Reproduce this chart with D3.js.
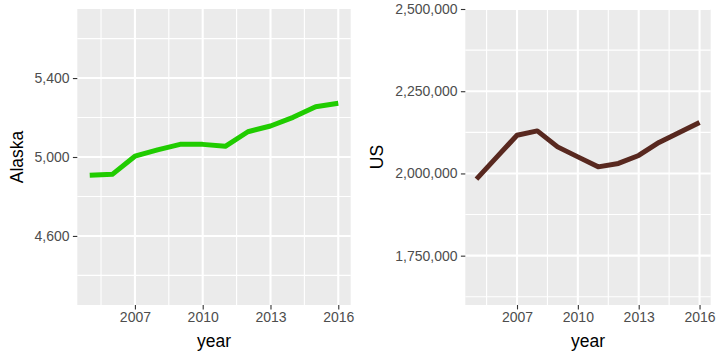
<!DOCTYPE html>
<html>
<head>
<meta charset="utf-8">
<script src="https://cdn.jsdelivr.net/npm/d3@7"></script>
<style>
  html, body { margin: 0; padding: 0; background: #ffffff; }
  svg { display: block; font-family: "Liberation Sans", Arial, Helvetica, sans-serif; }
</style>
</head>
<body>
<svg id="chart" width="720" height="360"></svg>
<script>
// ---- data ----
const years = [2005, 2006, 2007, 2008, 2009, 2010, 2011, 2012, 2013, 2014, 2015, 2016];
const alaska = [4907, 4912, 5004, 5036, 5064, 5064, 5054, 5128, 5157, 5201, 5255, 5272];
const us = [1982700, 2049500, 2116300, 2129400, 2080800, 2050400, 2020000, 2030400, 2054700, 2094200, 2124500, 2154900];
const xTicks = [2007, 2010, 2013, 2016];
const xMinor = [2005.5, 2008.5, 2011.5, 2014.5];
const alaskaTicks = [4600, 5000, 5400];
const alaskaMinor = [4400, 4800, 5200, 5600];
const usTicks = [1750000, 2000000, 2250000, 2500000];
const usMinor = [1625000, 1875000, 2125000, 2375000];

const svg = d3.select("#chart");
const fmt = d3.format(",");

const panels = [
  { name: "Alaska", values: alaska, color: "#20cc00", x0: 77.3, x1: 350.7, yDomain: [4250, 5750],
    ticks: alaskaTicks, minor: alaskaMinor, titleX: 23 },
  { name: "US", values: us, color: "#58281f", x0: 465.3, x1: 710.7, yDomain: [1600000, 2500000],
    ticks: usTicks, minor: usMinor, titleX: 383 }
];
const pTop = 9, pBottom = 305;

panels.forEach(p => {
  const x = d3.scaleLinear().domain([2004.45, 2016.55]).range([p.x0, p.x1]);
  const y = d3.scaleLinear().domain(p.yDomain).range([pBottom, pTop]);
  const g = svg.append("g");

  g.append("rect").attr("x", p.x0).attr("y", pTop)
    .attr("width", p.x1 - p.x0).attr("height", pBottom - pTop).attr("fill", "#ebebeb");

  // minor grid
  g.selectAll(".hmin").data(p.minor).enter().append("line")
    .attr("x1", p.x0).attr("x2", p.x1).attr("y1", d => y(d)).attr("y2", d => y(d))
    .attr("stroke", "#ffffff").attr("stroke-width", 1.1);
  g.selectAll(".vmin").data(xMinor).enter().append("line")
    .attr("y1", pTop).attr("y2", pBottom).attr("x1", d => x(d)).attr("x2", d => x(d))
    .attr("stroke", "#ffffff").attr("stroke-width", 1.1);
  // major grid
  g.selectAll(".hmaj").data(p.ticks).enter().append("line")
    .attr("x1", p.x0).attr("x2", p.x1).attr("y1", d => y(d)).attr("y2", d => y(d))
    .attr("stroke", "#ffffff").attr("stroke-width", 2.1);
  g.selectAll(".vmaj").data(xTicks).enter().append("line")
    .attr("y1", pTop).attr("y2", pBottom).attr("x1", d => x(d)).attr("x2", d => x(d))
    .attr("stroke", "#ffffff").attr("stroke-width", 2.1);

  // line
  const line = d3.line().x((d, i) => x(years[i])).y(d => y(d));
  g.append("path").datum(p.values).attr("d", line)
    .attr("fill", "none").attr("stroke", p.color).attr("stroke-width", 5)
    .attr("stroke-linejoin", "round").attr("stroke-linecap", "butt");

  // axes
  const yAxis = d3.axisLeft(y).tickValues(p.ticks).tickFormat(fmt).tickSize(4.4).tickPadding(3.4);
  const ya = g.append("g").attr("transform", `translate(${p.x0},0)`).call(yAxis);
  const xAxis = d3.axisBottom(x).tickValues(xTicks).tickFormat(d3.format("d")).tickSize(4.4).tickPadding(2.5);
  const xa = g.append("g").attr("transform", `translate(0,${pBottom})`).call(xAxis);
  [ya, xa].forEach(a => {
    a.select(".domain").remove();
    a.selectAll(".tick line").attr("stroke", "#333333").attr("stroke-width", 1.1);
    a.selectAll(".tick text").attr("fill", "#4d4d4d").attr("font-size", "14px")
      .attr("font-family", "Liberation Sans, Arial, sans-serif");
  });

  // titles
  g.append("text").attr("x", (p.x0 + p.x1) / 2).attr("y", 347)
    .attr("text-anchor", "middle").attr("font-size", "17.5px").attr("fill", "#000000").text("year");
  g.append("text").attr("transform", `translate(${p.titleX},${(pTop + pBottom) / 2}) rotate(-90)`)
    .attr("text-anchor", "middle").attr("font-size", "17.5px").attr("fill", "#000000").text(p.name);
});
</script>
</body>
</html>
